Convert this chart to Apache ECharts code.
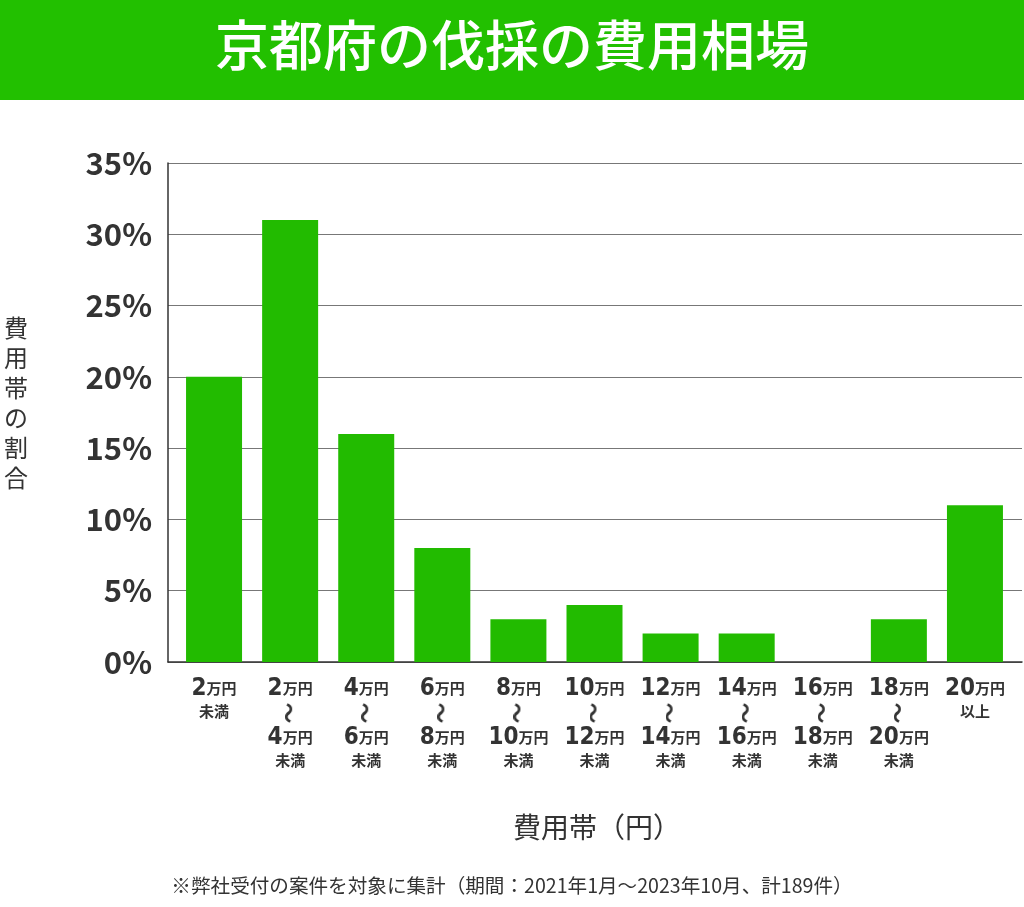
<!DOCTYPE html>
<html><head><meta charset="utf-8">
<script src="https://cdn.jsdelivr.net/npm/echarts@6/dist/echarts.min.js"></script>
<style>html,body{margin:0;padding:0;background:#fff}#c{width:1024px;height:907px}</style>
</head><body><div id="c"></div>
<script>
const titleText = '京都府の伐採の費用相場';
const categories = ['2万円\n未満','2万円\n〜\n4万円\n未満','4万円\n〜\n6万円\n未満','6万円\n〜\n8万円\n未満','8万円\n〜\n10万円\n未満','10万円\n〜\n12万円\n未満','12万円\n〜\n14万円\n未満','14万円\n〜\n16万円\n未満','16万円\n〜\n18万円\n未満','18万円\n〜\n20万円\n未満','20万円\n以上'];
const values = [20, 31, 16, 8, 3, 4, 2, 2, 0, 3, 11];
const yTicks = [0, 5, 10, 15, 20, 25, 30, 35];
const yName = '費用帯の割合';
const xName = '費用帯（円）';
const footnote = '※弊社受付の案件を対象に集計（期間：2021年1月～2023年10月、計189件）';

const chart = echarts.init(document.getElementById('c'));
const cjk = '"Noto Sans CJK JP", sans-serif';
const cond = '"Liberation Sans Narrow", "DejaVu Sans Condensed", Roboto, sans-serif';

// vertical wave glyph: rotated "〜"
const waveCanvas = document.createElement('canvas');
waveCanvas.width = 10; waveCanvas.height = 20;
(function(){
  const g = waveCanvas.getContext('2d');
  g.translate(5, 10);
  g.rotate(Math.PI/2);
  g.fillStyle = '#333';
  g.font = 'bold 21px "Noto Sans CJK JP"';
  g.textAlign = 'center';
  g.textBaseline = 'middle';
  g.fillText('〜', 0, 1);
})();

function fmt(v){
  return v.split('\n').map(line=>{
    const m = line.match(/^(\d+)万円$/);
    if(m) return '{n|'+m[1]+'}{u|万円}';
    if(line==='〜') return '{w| }';
    return '{s|'+line+'}';
  }).join('\n');
}
const yMin = yTicks[0], yMax = yTicks[yTicks.length-1];
chart.setOption({
  animation:false,
  graphic:[
    {type:'rect',left:0,top:0,shape:{width:1024,height:100},style:{fill:'#22c000'}},
    {type:'text',left:'center',top:18,style:{text:titleText,fill:'#fff',font:'500 54px '+cjk}},
    {type:'text',left:4,top:313,style:{text:yName.split('').join('\n'),fill:'#333',font:'24px '+cjk,lineHeight:30}},
    {type:'text',left:513,top:813,style:{text:xName,fill:'#333',font:'28px '+cjk}},
    {type:'text',left:'center',top:876,style:{text:footnote,fill:'#333',font:'19.6px '+cjk}}
  ],
  grid:[
    {left:168,right:2,top:163,bottom:245,containLabel:false},
    {left:176,right:11,top:163,bottom:245,containLabel:false}
  ],
  xAxis:[
    {type:'category',gridIndex:0,data:[''],axisLine:{lineStyle:{color:'#333',width:1.5}},axisTick:{show:false},axisLabel:{show:false}},
    {type:'category',gridIndex:1,data:categories,
    axisLine:{show:false},axisTick:{show:false},
    axisLabel:{interval:0,margin:14,formatter:fmt,verticalAlign:'top',
      rich:{
        n:{fontFamily:cond,fontWeight:'bold',fontSize:24,color:'#333',lineHeight:25},
        u:{fontFamily:cjk,fontWeight:'bold',fontSize:15,color:'#333',lineHeight:25},
        w:{width:10,height:20,lineHeight:24,backgroundColor:{image:waveCanvas},fontSize:12},
        s:{fontFamily:cjk,fontWeight:'bold',fontSize:15,color:'#333',lineHeight:21}
      }}}
  ],
  yAxis:[
    {type:'value',gridIndex:0,min:yMin,max:yMax,interval:5,
    axisLine:{show:true,lineStyle:{color:'#333',width:1.5}},axisTick:{show:false},
    splitLine:{lineStyle:{color:'#777',width:1}},
    axisLabel:{formatter:'{value}%',margin:16,color:'#333',fontFamily:cjk,fontWeight:'bold',fontSize:31}},
    {type:'value',gridIndex:1,min:yMin,max:yMax,interval:5,show:false,splitLine:{show:false}}
  ],
  series:[{type:'bar',xAxisIndex:1,yAxisIndex:1,data:values,barWidth:56,itemStyle:{color:'#22bb00'}}]
});
</script></body></html>
